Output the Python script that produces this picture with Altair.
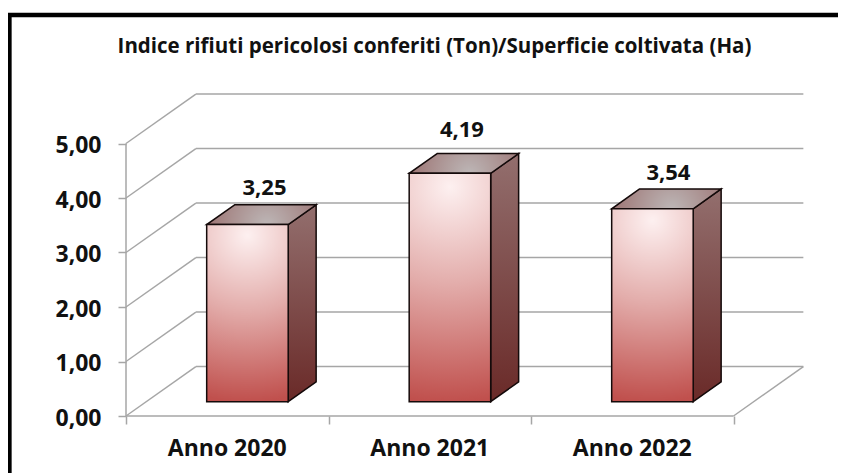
import altair as alt
import pandas as pd

TITLE = "Indice rifiuti pericolosi conferiti (Ton)/Superficie coltivata (Ha)"
categories = ["Anno 2020", "Anno 2021", "Anno 2022"]
values = [3.25, 4.19, 3.54]
value_labels = ["3,25", "4,19", "3,54"]
y_ticks = [0, 1, 2, 3, 4, 5]
x_ticks = [0, 1, 2, 3]

# projection of the 3D box, in data units
DX, DY = 0.345, 0.908        # full depth of the chart floor
BAR_W = 0.4025
BAR_FRONT = 0.289            # where the bar's front face sits within the depth
BAR_DEPTH = 0.40             # share of the depth taken by the bar
LABEL_LIFT = [0.31, 0.44, 0.29]
LABEL_SHIFT = [0.015, -0.01, 0.01]

W, H = 830, 465
x_scale = alt.Scale(domain=[(8 - 126) / 202.5, (838 - 126) / 202.5], range=[0, W], nice=False, zero=False)
y_scale = alt.Scale(domain=[(416 - 473) / 54.5, (416 - 8) / 54.5], range=[H, 0], nice=False, zero=False)
X = lambda f, **k: alt.X(f, type="quantitative", scale=x_scale, title=None, **k)
Y = lambda f, **k: alt.Y(f, type="quantitative", scale=y_scale, title=None, **k)

GRID = "#a6a6a6"
FONT = "Open Sans"

# walls
segments = []
sid = 0
for v in y_ticks:
    segments += [{"s": sid, "x": 0, "y": v}, {"s": sid, "x": DX, "y": v + DY}]
    sid += 1
    segments += [{"s": sid, "x": DX, "y": v + DY}, {"s": sid, "x": 3 + DX, "y": v + DY}]
    sid += 1
segments += [{"s": sid, "x": 3, "y": 0}, {"s": sid, "x": 3 + DX, "y": DY}]
sid += 1
segments += [{"s": sid, "x": 0, "y": 0}, {"s": sid, "x": 3, "y": 0}]
sid += 1
segments += [{"s": sid, "x": 0, "y": 0}, {"s": sid, "x": 0, "y": 5}]
walls = alt.Chart(pd.DataFrame(segments)).mark_line(color=GRID, strokeWidth=1.5).encode(
    x=X("x:Q", axis=alt.Axis(values=x_ticks, labels=False, domain=False, grid=False, tickSize=8,
                             tickColor=GRID, tickWidth=1.5, offset=-57)),
    y=Y("y:Q", axis=alt.Axis(values=y_ticks, domain=False, grid=False, tickSize=8, tickColor=GRID,
                             tickWidth=1.5, offset=-118, labelPadding=17, labelFont=FONT,
                             labelFontSize=23, labelFontWeight="bold", labelColor="#111111",
                             labelOffset=2,
                             labelExpr="replace(format(datum.value,'.2f'),'.',',')")),
    detail="s:N",
)

# bars
front, side, top, labels = [], [], [], []
for i, (c, v) in enumerate(zip(categories, values)):
    x0 = i + 0.5 - BAR_W / 2 + BAR_FRONT * DX
    x1 = x0 + BAR_W
    b = BAR_FRONT * DY
    ddx, ddy = BAR_DEPTH * DX, BAR_DEPTH * DY
    front.append({"x": x0, "x2": x1, "y": b, "y2": b + v})
    side += [{"b": c, "x": x1, "y": b, "y2": b + v},
             {"b": c, "x": x1 + ddx, "y": b + ddy, "y2": b + v + ddy}]
    top += [{"b": c, "y": b + v, "x": x0, "x2": x1},
            {"b": c, "y": b + v + ddy, "x": x0 + ddx, "x2": x1 + ddx}]
    labels.append({"x": x0 + BAR_W / 2 + ddx / 2 + LABEL_SHIFT[i], "y": b + v + ddy + LABEL_LIFT[i],
                   "t": value_labels[i]})

EDGE = "#140a0a"
front_grad = alt.RadialGradient(
    gradient="radial", x1=0.5, y1=0.06, r1=0, x2=0.5, y2=0.06, r2=0.94,
    stops=[alt.GradientStop(offset=0, color="#fdf0f0"),
           alt.GradientStop(offset=0.45, color="#e3adab"),
           alt.GradientStop(offset=1, color="#c0504d")])
side_grad = alt.LinearGradient(
    gradient="linear", x1=0, y1=0, x2=0, y2=1,
    stops=[alt.GradientStop(offset=0, color="#936f6e"),
           alt.GradientStop(offset=1, color="#6a2a28")])
top_grad = alt.RadialGradient(
    gradient="radial", x1=0.55, y1=0.6, r1=0, x2=0.55, y2=0.6, r2=0.6,
    stops=[alt.GradientStop(offset=0, color="#bdb7b7"),
           alt.GradientStop(offset=1, color="#9a6f6e")])

side_l = alt.Chart(pd.DataFrame(side)).mark_area(
    color=side_grad, stroke=EDGE, strokeWidth=1.5, orient="vertical").encode(
    x=X("x:Q"), y=Y("y:Q"), y2="y2:Q", detail="b:N")
top_l = alt.Chart(pd.DataFrame(top)).mark_area(
    color=top_grad, stroke=EDGE, strokeWidth=1.5, orient="horizontal").encode(
    y=Y("y:Q"), x=X("x:Q"), x2="x2:Q", detail="b:N")
front_l = alt.Chart(pd.DataFrame(front)).mark_rect(
    color=front_grad, stroke=EDGE, strokeWidth=1.5).encode(
    x=X("x:Q"), x2="x2:Q", y=Y("y:Q"), y2="y2:Q")
label_l = alt.Chart(pd.DataFrame(labels)).mark_text(
    font=FONT, fontSize=22, fontWeight="bold", color="#111111").encode(
    x=X("x:Q"), y=Y("y:Q"), text="t:N")
cat_l = alt.Chart(pd.DataFrame({"x": [i + 0.5 for i in range(3)], "t": categories})).mark_text(
    font=FONT, fontSize=23, fontWeight="bold", color="#111111").encode(
    x=X("x:Q"), y=alt.value(440.5), text="t:N")
title_l = alt.Chart(pd.DataFrame({"t": [TITLE]})).mark_text(
    font="Open Sans", fontSize=20.5, fontWeight="bold", color="#111111").encode(
    x=alt.value(426.5), y=alt.value(39), text="t:N")
frame_top = alt.Chart(pd.DataFrame({"a": [0]})).mark_rule(color="black", strokeWidth=4.5).encode(
    x=alt.value(0), x2=alt.value(W), y=alt.value(7))
frame_left = alt.Chart(pd.DataFrame({"a": [0]})).mark_rule(color="black", strokeWidth=4.5).encode(
    x=alt.value(1.4), y=alt.value(5), y2=alt.value(H))

chart = alt.layer(walls, side_l, top_l, front_l, label_l, cat_l, title_l, frame_top, frame_left).properties(
    width=W, height=H, padding=0, autosize=alt.AutoSizeParams(type="none"),
    background="white",
).configure_view(stroke=None)

chart.save("out.html", embed_options={"renderer": "svg", "actions": False})
